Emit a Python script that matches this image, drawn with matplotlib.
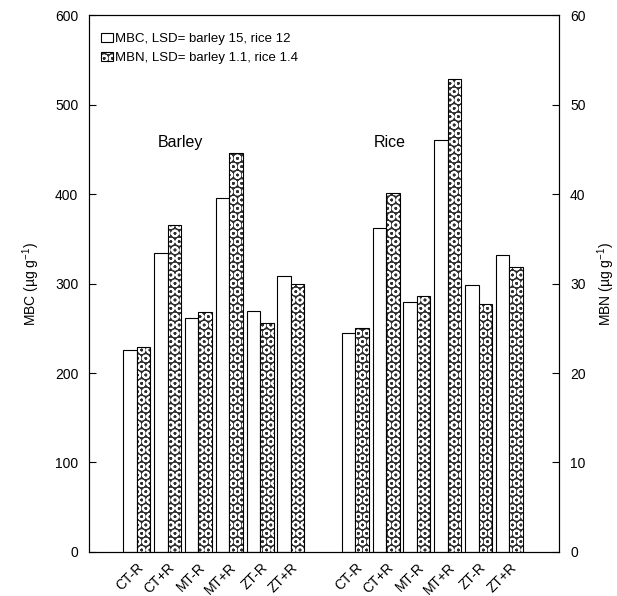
#!/usr/bin/env python3

import numpy as np
import matplotlib
matplotlib.use("Agg")
import matplotlib.pyplot as plt
from matplotlib.legend_handler import HandlerTuple

treatments = ["CT-R", "CT+R", "MT-R", "MT+R", "ZT-R", "ZT+R"]
crops = ["Barley", "Rice"]

mbc_barley = [226, 334, 262, 396, 269, 309]
mbc_rice = [245, 362, 279, 461, 298, 332]
mbn_barley = [22.9, 36.6, 26.8, 44.6, 25.6, 30.0]
mbn_rice = [25.0, 40.2, 28.6, 52.9, 27.7, 31.9]

legend_labels = ["MBC, LSD= barley 15, rice 12", "MBN, LSD= barley 1.1, rice 1.4"]


def main():
    plt.rcParams['font.family'] = ['Liberation Sans', 'DejaVu Sans']
    plt.rcParams['mathtext.default'] = 'regular'
    plt.rcParams['hatch.linewidth'] = 1.3

    fig = plt.figure(figsize=(6.17, 5.96), dpi=100)
    ax = fig.add_axes([0.145, 0.074, 0.761, 0.9])
    ax2 = ax.twinx()

    w = 0.438
    group_start = [0.0, 7.09]
    mbc = [mbc_barley, mbc_rice]
    mbn = [mbn_barley, mbn_rice]

    ticks = []
    tick_labels = []
    for g in range(2):
        pos = group_start[g] + np.arange(len(treatments))
        ax.bar(pos + w / 2, mbc[g], width=w, facecolor='white',
               edgecolor='black', linewidth=0.8, zorder=2)
        # circle fill: dark bar with white rings, then black outline on top
        h1 = ax2.bar(pos + 1.5 * w, mbn[g], width=w, facecolor='#2e2e2e',
                     edgecolor='white', linewidth=0, hatch='OO', zorder=2)
        h2 = ax2.bar(pos + 1.5 * w, mbn[g], width=w, facecolor='none',
                     edgecolor='black', linewidth=0.8, zorder=3)
        ticks.extend(pos + w)
        tick_labels.extend(treatments)

    ax.text(1.84, 458, crops[0], ha='center', va='center', fontsize=11.5)
    ax.text(8.65, 458, crops[1], ha='center', va='center', fontsize=11.5)

    ax.set_xlim(-1.10, 14.14)
    ax.set_ylim(0, 600)
    ax2.set_ylim(0, 60)
    ax.set_yticks(np.arange(0, 601, 100))
    ax2.set_yticks(np.arange(0, 61, 10))
    ax.tick_params(axis='y', direction='in', length=5, labelsize=10, pad=8)
    ax2.tick_params(axis='y', direction='in', length=5, labelsize=10, pad=8)

    ax.set_xticks(ticks)
    ax.set_xticklabels(tick_labels, rotation=45, ha='right',
                       rotation_mode='anchor', fontsize=10)
    ax.tick_params(axis='x', length=0, pad=6)

    ax.set_ylabel('MBC (µg g$^{-1}$)', fontsize=10, labelpad=9)
    ax2.set_ylabel('MBN (µg g$^{-1}$)', fontsize=10, labelpad=7)

    mbc_patch = plt.Rectangle((0, 0), 1, 1, facecolor='white',
                              edgecolor='black', linewidth=0.8)
    ax2.legend([mbc_patch, (h1, h2)], legend_labels,
               handler_map={tuple: HandlerTuple(ndivide=1)},
               loc='upper left', bbox_to_anchor=(0.005, 0.985), frameon=False,
               fontsize=9.5, handlelength=0.9, handleheight=0.7,
               handletextpad=0.15, labelspacing=0.5, borderaxespad=0.3)

    fig.savefig("out.png", dpi=100)


if __name__ == "__main__":
    main()
